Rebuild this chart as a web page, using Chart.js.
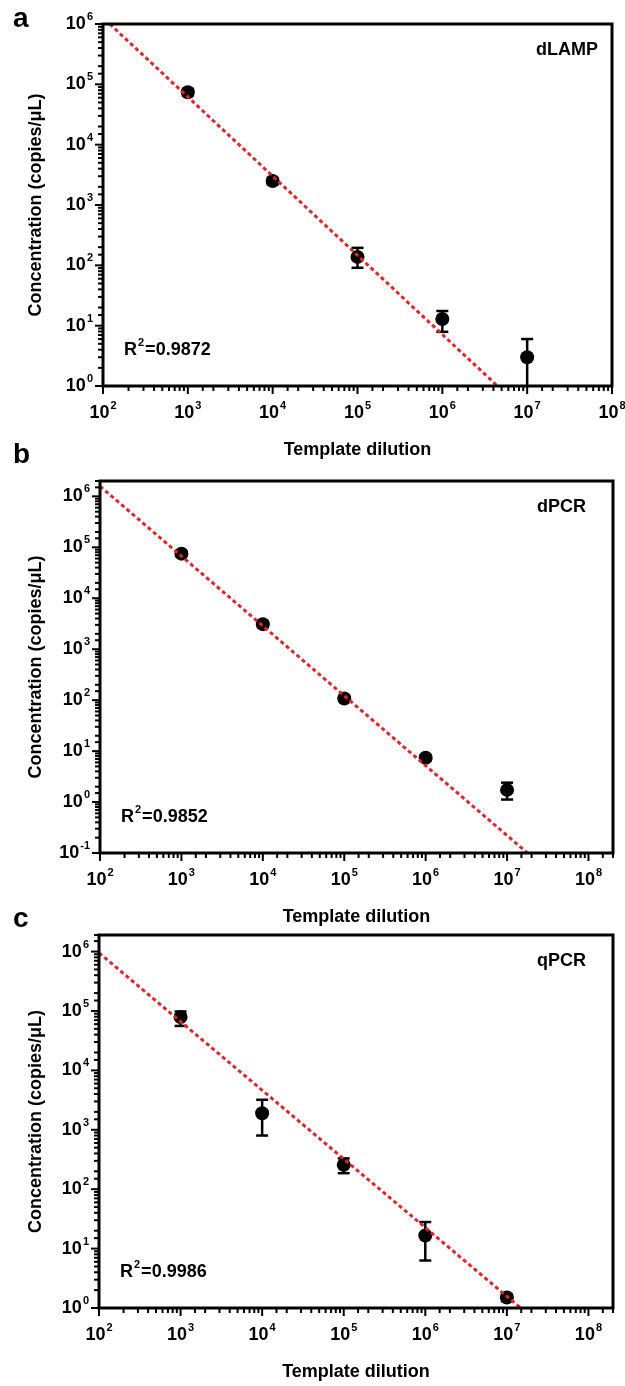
<!DOCTYPE html>
<html lang="en">
<head>
<meta charset="UTF-8">
<title>Template dilution</title>
<script src="https://cdn.jsdelivr.net/npm/chart.js"></script>
<style>
  body { margin: 0; background: #fff; width: 625px; height: 1386px; position: relative; overflow: hidden; }
  canvas { position: absolute; left: 0; }
</style>
</head>
<body>
<canvas id="chartA" width="625" height="465" style="top:0"></canvas>
<canvas id="chartB" width="625" height="500" style="top:430px"></canvas>
<canvas id="chartC" width="625" height="496" style="top:890px"></canvas>
<script>
// template dilution (x) for all three panels
const dilution = [1e3, 1e4, 1e5, 1e6, 1e7];

// dLAMP
const dlampMean = [7.4e4, 2.5e3, 138, 12.9, 3.0];
const dlampLow  = [6.5e4, 2.2e3, 91, 7.9, 0.5];
const dlampHigh = [8.4e4, 2.8e3, 195, 17.5, 6.0];
const dlampFitX = [120, 4.47e6];
const dlampFitY = [1e6, 1];

// dPCR
const dpcrMean = [7.5e4, 3.1e3, 108, 7.4, 1.73];
const dpcrLow  = [6.6e4, 2.7e3, 95, 6.5, 1.12];
const dpcrHigh = [8.5e4, 3.5e3, 122, 8.3, 2.4];
const dpcrFitX = [100, 1.78e7];
const dpcrFitY = [1.58e6, 0.1];

// qPCR
const qpcrMean = [7.9e4, 1.9e3, 257, 16.6, 1.5];
const qpcrLow  = [5.6e4, 800, 186, 6.3, 1.3];
const qpcrHigh = [9.8e4, 3.2e3, 330, 28, 1.7];
const qpcrFitX = [100, 1.48e7];
const qpcrFitY = [9.5e5, 1];

const FONT = '"Liberation Sans", Arial, sans-serif';

function isDecade(v) {
  const l = Math.log10(v);
  return Math.abs(l - Math.round(l)) < 1e-6;
}

// "10" with a raised exponent
function drawPower(ctx, exp, x, y, align) {
  ctx.font = 'bold 18px ' + FONT;
  const wb = ctx.measureText('10').width;
  ctx.font = 'bold 11px ' + FONT;
  const we = ctx.measureText(exp).width;
  const w = wb + 1 + we;
  const x0 = align === 'center' ? x - w / 2 : x - w;
  ctx.textAlign = 'left';
  ctx.textBaseline = 'middle';
  ctx.font = 'bold 18px ' + FONT;
  ctx.fillText('10', x0, y);
  ctx.font = 'bold 11px ' + FONT;
  ctx.fillText(exp, x0 + wb + 1, y - 7);
}

function seg(ctx, x1, y1, x2, y2) {
  ctx.beginPath();
  ctx.moveTo(x1, y1);
  ctx.lineTo(x2, y2);
  ctx.stroke();
}

const errorBars = {
  id: 'errorBars',
  beforeDatasetsDraw(chart, args, opts) {
    const { ctx, chartArea: a, scales: { x, y } } = chart;
    ctx.save();
    ctx.beginPath();
    ctx.rect(a.left, a.top, a.width, a.height);
    ctx.clip();
    ctx.strokeStyle = '#000';
    ctx.lineWidth = 2.5;
    opts.x.forEach((xv, i) => {
      const px = x.getPixelForValue(xv);
      const yl = y.getPixelForValue(opts.low[i]);
      const yh = y.getPixelForValue(opts.high[i]);
      seg(ctx, px, yl, px, yh);
      seg(ctx, px - 6, yl, px + 6, yl);
      seg(ctx, px - 6, yh, px + 6, yh);
    });
    ctx.restore();
  }
};

const logAxes = {
  id: 'logAxes',
  afterDraw(chart, args, opts) {
    const { ctx, chartArea: a, scales: { x, y } } = chart;
    ctx.save();
    ctx.strokeStyle = '#000';
    ctx.fillStyle = '#000';
    ctx.lineWidth = 2;

    x.ticks.forEach(t => {
      const v = t.value;
      if (v < x.min * 0.999 || v > x.max * 1.001) return;
      const px = x.getPixelForValue(v);
      const major = isDecade(v);
      seg(ctx, px, a.bottom, px, a.bottom + (major ? 8 : 5));
      if (major) drawPower(ctx, String(Math.round(Math.log10(v))), px, a.bottom + 27, 'center');
    });
    y.ticks.forEach(t => {
      const v = t.value;
      if (v < y.min * 0.999 || v > y.max * 1.001) return;
      const py = y.getPixelForValue(v);
      const major = isDecade(v);
      seg(ctx, a.left, py, a.left - (major ? 8 : 5), py);
      if (major) drawPower(ctx, String(Math.round(Math.log10(v))), a.left - 10, py, 'right');
    });

    ctx.lineWidth = 3;
    ctx.strokeRect(a.left, a.top, a.width, a.height);

    // axis titles
    ctx.font = 'bold 18px ' + FONT;
    ctx.textAlign = 'center';
    ctx.textBaseline = 'middle';
    ctx.fillText('Template dilution', (a.left + a.right) / 2, a.bottom + 64);
    ctx.save();
    ctx.translate(36, (a.top + a.bottom) / 2);
    ctx.rotate(-Math.PI / 2);
    ctx.fillText('Concentration (copies/\u03bcL)', 0, 0);
    ctx.restore();

    // method label
    ctx.textAlign = 'left';
    ctx.fillText(opts.label, a.right - 76, a.top + 26);

    // R^2
    const rx = a.left + 21, ry = a.bottom - 36;
    ctx.fillText('R', rx, ry);
    const wr = ctx.measureText('R').width;
    ctx.font = 'bold 11px ' + FONT;
    ctx.fillText('2', rx + wr + 1, ry - 7);
    const w2 = ctx.measureText('2').width;
    ctx.font = 'bold 18px ' + FONT;
    ctx.fillText('=' + opts.r2, rx + wr + w2 + 2, ry);

    // panel letter
    ctx.font = 'bold 28px ' + FONT;
    ctx.textBaseline = 'alphabetic';
    ctx.fillText(opts.letter, 13, opts.letterY);
    ctx.restore();
  }
};

function makePanel(id, p) {
  new Chart(document.getElementById(id), {
    type: 'scatter',
    data: {
      datasets: [
        {
          data: p.fitX.map((v, i) => ({ x: v, y: p.fitY[i] })),
          showLine: true,
          borderColor: '#e3262a',
          borderWidth: 3,
          borderDash: [4, 3],
          pointRadius: 0,
          clip: 0
        },
        {
          data: dilution.map((v, i) => ({ x: v, y: p.mean[i] })),
          pointRadius: 7,
          backgroundColor: '#000',
          borderColor: '#000',
          borderWidth: 0
        }
      ]
    },
    options: {
      responsive: false,
      animation: false,
      layout: { padding: p.pad },
      plugins: {
        legend: { display: false },
        tooltip: { enabled: false },
        errorBars: { x: dilution, low: p.low, high: p.high },
        logAxes: { label: p.label, r2: p.r2, letter: p.letter, letterY: p.letterY }
      },
      scales: {
        x: {
          type: 'logarithmic', min: 100, max: p.xMax,
          ticks: { display: false }, grid: { display: false }, border: { display: false },
          afterFit(s) { s.height = 0; }
        },
        y: {
          type: 'logarithmic', min: p.yMin, max: p.yMax,
          ticks: { display: false }, grid: { display: false }, border: { display: false },
          afterFit(s) { s.width = 0; }
        }
      }
    },
    plugins: [errorBars, logAxes]
  });
}

makePanel('chartA', {
  mean: dlampMean, low: dlampLow, high: dlampHigh, fitX: dlampFitX, fitY: dlampFitY,
  xMax: 1e8, yMin: 1, yMax: 1e6, label: 'dLAMP', r2: '0.9872', letter: 'a', letterY: 27,
  pad: { left: 103, right: 13, top: 24, bottom: 79 }
});
makePanel('chartB', {
  mean: dpcrMean, low: dpcrLow, high: dpcrHigh, fitX: dpcrFitX, fitY: dpcrFitY,
  xMax: 2e8, yMin: 0.1, yMax: 2e6, label: 'dPCR', r2: '0.9852', letter: 'b', letterY: 33,
  pad: { left: 100, right: 12, top: 51, bottom: 77 }
});
makePanel('chartC', {
  mean: qpcrMean, low: qpcrLow, high: qpcrHigh, fitX: qpcrFitX, fitY: qpcrFitY,
  xMax: 2e8, yMin: 1, yMax: 1.9e6, label: 'qPCR', r2: '0.9986', letter: 'c', letterY: 37,
  pad: { left: 99, right: 12, top: 45, bottom: 78 }
});
</script>
</body>
</html>
